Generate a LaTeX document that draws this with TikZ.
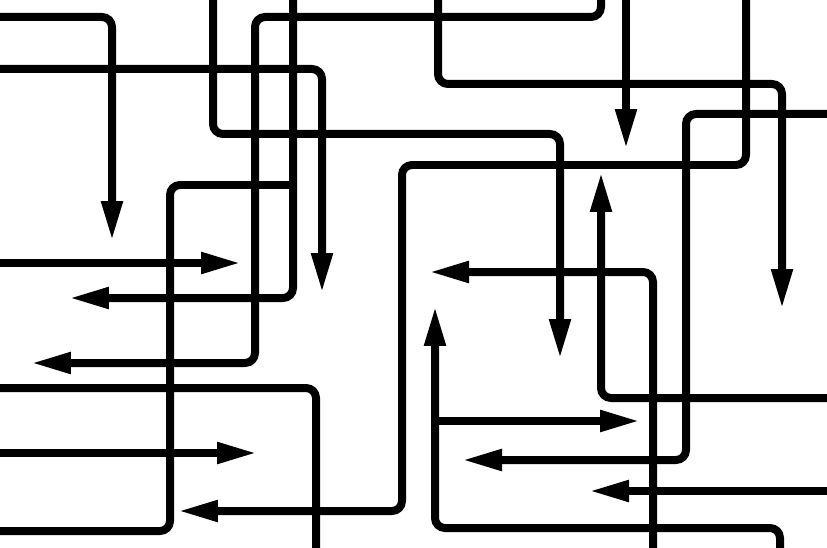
\documentclass[tikz,border=0pt]{standalone}
\usetikzlibrary{arrows.meta}

\begin{document}
\begin{tikzpicture}[x=0.02cm,y=-0.02cm,>={Triangle[length=0.8cm,width=0.4cm]},
  wire/.style={line width=0.16cm,rounded corners=0.2cm}]
  \useasboundingbox (0,0) rectangle (827,547);
  \clip (0,0) rectangle (827,547);
  % left side
  \draw[wire,->] (-5,17)--(112,17)--(112,241);
  \draw[wire,->] (-5,69)--(322,69)--(322,293);
  \draw[wire,->] (213,-5)--(213,134)--(560,134)--(560,359);
  \draw[wire,->] (293,-5)--(293,298)--(69,298);
  \draw[wire,->] (601,-5)--(601,17)--(255,17)--(255,363)--(31,363);
  \draw[wire] (293,185)--(170,185)--(170,531)--(-5,531);
  \draw[wire,->] (-5,263)--(241,263);
  \draw[wire] (-5,388)--(316,388)--(316,552);
  \draw[wire,->] (-5,453)--(257,453);
  \draw[wire,->] (746,-5)--(746,165)--(402,165)--(402,511)--(178,511);
  % right side
  \draw[wire,->] (438,-5)--(438,84)--(782,84)--(782,309);
  \draw[wire,->] (626,-5)--(626,149);
  \draw[wire,->] (832,114)--(686,114)--(686,460)--(462,460);
  \draw[wire,->] (653,552)--(653,272)--(429,272);
  \draw[wire,->] (832,398)--(601,398)--(601,172);
  \draw[wire,->] (780,552)--(780,528)--(435,528)--(435,306);
  \draw[wire,->] (435,421)--(640,421);
  \draw[wire,->] (832,491)--(589,491);
\end{tikzpicture}
\end{document}
